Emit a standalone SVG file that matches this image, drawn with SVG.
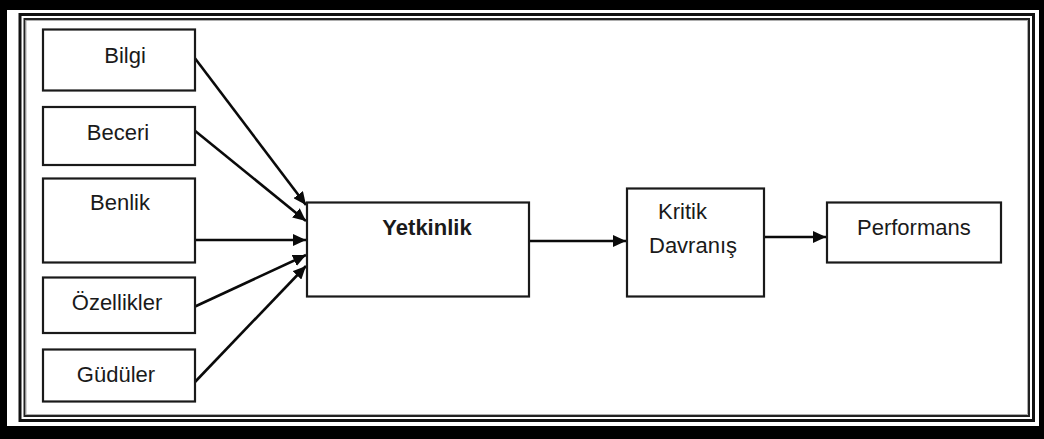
<svg xmlns="http://www.w3.org/2000/svg" width="1044" height="439" viewBox="0 0 1044 439">
  <style>
    .box { fill: #ffffff; stroke: #1a1a1a; stroke-width: 2.2; }
    .lbl { font-family: "Liberation Sans", Arial, sans-serif; font-size: 22px; fill: #1a1a1a; }
    .bold { font-weight: bold; }
    .edge { stroke: #0a0a0a; stroke-width: 2.6; fill: none; marker-end: url(#head); }
  </style>
  <defs>
    <marker id="head" markerUnits="userSpaceOnUse" markerWidth="14" markerHeight="12" refX="13" refY="6" orient="auto">
      <path d="M0,0 L13,6 L0,12 z" fill="#0a0a0a"/>
    </marker>
  </defs>

  <!-- page frame: thick black band with a double rule inside -->
  <g id="frame">
    <rect x="0" y="0" width="1044" height="439" fill="#000000"/>
    <rect x="7" y="10" width="1032" height="416" fill="#ffffff"/>
    <rect x="20" y="14.5" width="1013.5" height="406" fill="none" stroke="#111111" stroke-width="3"/>
    <rect x="24.5" y="19" width="1004.5" height="397" fill="none" stroke="#222222" stroke-width="2"/>
    <rect x="26" y="20.5" width="1001.5" height="394" fill="none" stroke="#9a9a9a" stroke-width="0.8"/>
  </g>

  <!-- connectors -->
  <g id="connectors">
    <line class="edge" x1="194" y1="57" x2="306" y2="205"/>
    <line class="edge" x1="194" y1="130" x2="306" y2="221"/>
    <line class="edge" x1="194" y1="240" x2="306" y2="240"/>
    <line class="edge" x1="194" y1="307" x2="306" y2="255"/>
    <line class="edge" x1="194" y1="383" x2="306" y2="266"/>
    <line class="edge" x1="529" y1="241" x2="626" y2="241"/>
    <line class="edge" x1="764" y1="237" x2="826" y2="237"/>
  </g>

  <!-- source factors -->
  <g id="bilgi">
    <rect class="box" x="43" y="29.5" width="152" height="61"/>
    <text class="lbl" x="125" y="63" text-anchor="middle">Bilgi</text>
  </g>
  <g id="beceri">
    <rect class="box" x="43" y="107" width="152" height="58"/>
    <text class="lbl" x="118" y="140" text-anchor="middle">Beceri</text>
  </g>
  <g id="benlik">
    <rect class="box" x="43" y="178.5" width="152" height="84"/>
    <text class="lbl" x="120" y="210" text-anchor="middle">Benlik</text>
  </g>
  <g id="ozellikler">
    <rect class="box" x="43" y="277.5" width="152" height="55.5"/>
    <text class="lbl" x="117" y="310" text-anchor="middle">Özellikler</text>
  </g>
  <g id="guduler">
    <rect class="box" x="43" y="349.5" width="152" height="52"/>
    <text class="lbl" x="116" y="382" text-anchor="middle">Güdüler</text>
  </g>

  <!-- central competency -->
  <g id="yetkinlik">
    <rect class="box" x="307" y="202.5" width="222" height="94"/>
    <text class="lbl bold" x="427" y="235" text-anchor="middle">Yetkinlik</text>
  </g>

  <!-- critical behaviour -->
  <g id="kritik-davranis">
    <rect class="box" x="627" y="188.5" width="137" height="108"/>
    <text class="lbl" x="658" y="219">Kritik</text>
    <text class="lbl" x="649" y="253">Davranış</text>
  </g>

  <!-- outcome -->
  <g id="performans">
    <rect class="box" x="827" y="202.5" width="174" height="60"/>
    <text class="lbl" x="857" y="235">Performans</text>
  </g>
</svg>
